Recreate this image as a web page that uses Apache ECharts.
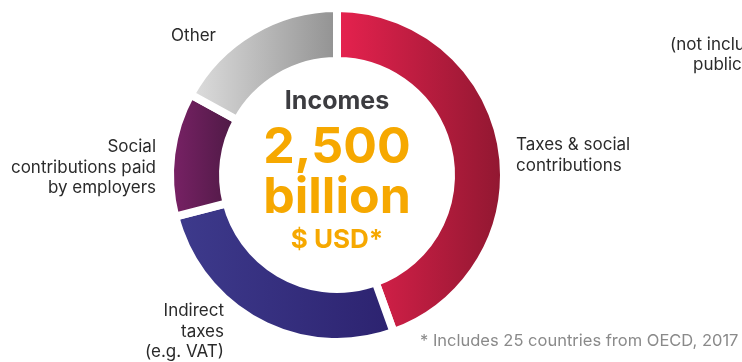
<!DOCTYPE html>
<html>
<head>
<meta charset="utf-8">
<script src="https://cdn.jsdelivr.net/npm/echarts@6/dist/echarts.min.js"></script>
<style>
  html, body { margin: 0; padding: 0; background: #fff; }
  #chart { width: 742px; height: 362px; overflow: hidden; }
</style>
</head>
<body>
<div id="chart"></div>
<script>
// Income sources (share of total, %)
const categories = [
  'Taxes & social\ncontributions',
  'Indirect\ntaxes\n(e.g. VAT)',
  'Social\ncontributions paid\nby employers',
  'Other'
];
const shares = [44.5, 26.5, 12, 17];

// Horizontal gradient stops per slice: [light side, dark side]
const sliceColors = [
  ['#e8224f', '#8e1730'],
  ['#3e3b8d', '#2c226f'],
  ['#7c2268', '#4a1942'],
  ['#e0e0e0', '#909090']
];

const centerTitle = 'Incomes';
const centerAmount = ['2,500', 'billion'];
const centerUnit = '$ USD*';
const footnote = '* Includes 25 countries from OECD, 2017';
const sideNote = ['(not including', 'public sector)'];

const chart = echarts.init(document.getElementById('chart'), null, { renderer: 'canvas' });

const CX = 337, CY = 175;
const labelFont = '"Inter", "Roboto", sans-serif';
const labelStyle = { fontFamily: labelFont, fontSize: 17, fill: '#2a2a2a', lineHeight: 20.5 };

// Slice label anchors (layout only)
const labelSpots = [
  { x: 516, y: 135, align: 'left' },
  { x: 224, y: 301, align: 'right' },
  { x: 156, y: 137, align: 'right' },
  { x: 216, y: 26, align: 'right' }
];

const graphics = categories.map((name, i) => ({
  type: 'text',
  x: labelSpots[i].x,
  y: labelSpots[i].y,
  style: Object.assign({ text: name, align: labelSpots[i].align, verticalAlign: 'top' }, labelStyle)
}));

function centerText(text, y, size, color) {
  return {
    type: 'text', x: CX, y: y,
    style: {
      text: text, align: 'center', verticalAlign: 'middle',
      fontFamily: '"Inter", "Roboto", sans-serif', fontWeight: 'bold',
      fontSize: size, fill: color
    }
  };
}

graphics.push(
  centerText(centerTitle, 101, 25, '#3c3c40'),
  centerText(centerAmount[0], 148, 50, '#f6a800'),
  centerText(centerAmount[1], 198, 50, '#f6a800'),
  centerText(centerUnit, 240, 26, '#f6a800'),
  {
    type: 'text', x: 420, y: 341,
    style: { text: footnote, fontFamily: labelFont, fontSize: 16.5, fill: '#8a8a8a', verticalAlign: 'middle' }
  },
  {
    type: 'text', x: 670, y: 45,
    style: { text: sideNote[0], fontFamily: labelFont, fontSize: 17, fill: '#2a2a2a', verticalAlign: 'middle' }
  },
  {
    type: 'text', x: 693, y: 65,
    style: { text: sideNote[1], fontFamily: labelFont, fontSize: 17, fill: '#2a2a2a', verticalAlign: 'middle' }
  }
);

chart.setOption({
  animation: false,
  backgroundColor: '#ffffff',
  series: [{
    type: 'pie',
    center: [CX, CY],
    radius: [114, 167],
    startAngle: 90,
    clockwise: true,
    avoidLabelOverlap: false,
    label: { show: false },
    labelLine: { show: false },
    emphasis: { disabled: true },
    itemStyle: { borderColor: '#ffffff', borderWidth: 8 },
    data: shares.map((v, i) => ({
      name: categories[i],
      value: v,
      itemStyle: {
        color: new echarts.graphic.LinearGradient(0, 0, 1, 0, [
          { offset: 0, color: sliceColors[i][0] },
          { offset: 1, color: sliceColors[i][1] }
        ])
      }
    }))
  }],
  graphic: graphics
});
</script>
</body>
</html>
